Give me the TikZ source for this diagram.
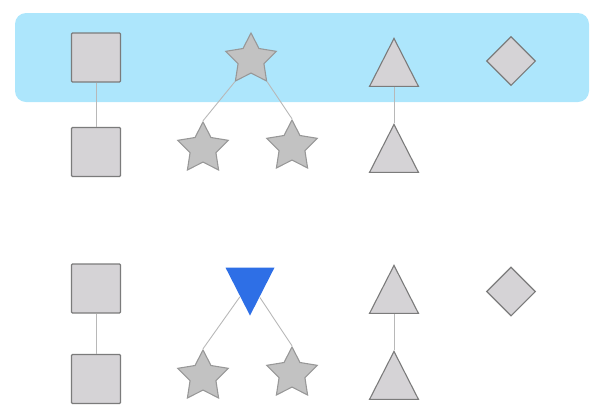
\documentclass[tikz,border=0pt]{standalone}
\usetikzlibrary{shapes.geometric}
\definecolor{bandblue}{HTML}{ADE6FC}
\definecolor{shapegray}{HTML}{D5D3D6}
\definecolor{stargray}{HTML}{C2C2C2}
\definecolor{edgegray}{HTML}{7B7B7B}
\definecolor{staredge}{HTML}{989898}
\definecolor{linkgray}{HTML}{B8B8B8}
\definecolor{pickblue}{HTML}{2E6FE6}
\begin{document}
\begin{tikzpicture}[x=1pt,y=-1pt,
  box/.style={draw=edgegray,fill=shapegray,line width=1.1pt,rounded corners=1pt,minimum size=49pt,inner sep=0pt},
  starshape/.style={star,star points=5,star point ratio=1.95,draw=staredge,fill=stargray,line width=1.1pt,minimum size=53pt,inner sep=0pt},
  tri/.style={isosceles triangle,isosceles triangle stretches,shape border rotate=90,minimum width=49pt,minimum height=48pt,draw=edgegray,fill=shapegray,line width=1.1pt,inner sep=0pt,anchor=apex},
  gem/.style={diamond,draw=edgegray,fill=shapegray,line width=1.1pt,minimum width=49pt,minimum height=49pt,inner sep=0pt},
  link/.style={draw=linkgray,line width=0.9pt}]
\useasboundingbox (0,0) rectangle (600,416);
\fill[bandblue,rounded corners=11pt] (15,13) rectangle (589,102);
% top group
\node[box] (sqa1) at (96,57.5) {};
\node[box] (sqa2) at (96,152) {};
\node[starshape] (sta1) at (251,59.5) {};
\node[starshape] (sta2) at (203,148.5) {};
\node[starshape] (sta3) at (292,146.5) {};
\node[tri] (tra1) at (394,37) {};
\node[tri] (tra2) at (394,123) {};
\node[gem] (gema) at (511,61) {};
\draw[link] (sqa1) -- (sqa2);
\draw[link] (sta1.outer point 3) -- (sta2.outer point 1);
\draw[link] (sta1.outer point 4) -- (sta3.outer point 1);
\draw[link] (tra1) -- (tra2.apex);
% bottom group
\node[box] (sqb1) at (96,288.5) {};
\node[box] (sqb2) at (96,379) {};
\node[tri,fill=pickblue,draw=none,shape border rotate=270] (pick) at (250,317) {};
\node[starshape] (stb2) at (203,376.5) {};
\node[starshape] (stb3) at (292,373.5) {};
\node[tri] (trb1) at (394,264) {};
\node[tri] (trb2) at (394,350) {};
\node[gem] (gemb) at (511,291.5) {};
\draw[link] (sqb1) -- (sqb2);
\draw[link] (pick) -- (stb2.outer point 1);
\draw[link] (pick) -- (stb3.outer point 1);
\draw[link] (trb1) -- (trb2.apex);
\end{tikzpicture}
\end{document}
